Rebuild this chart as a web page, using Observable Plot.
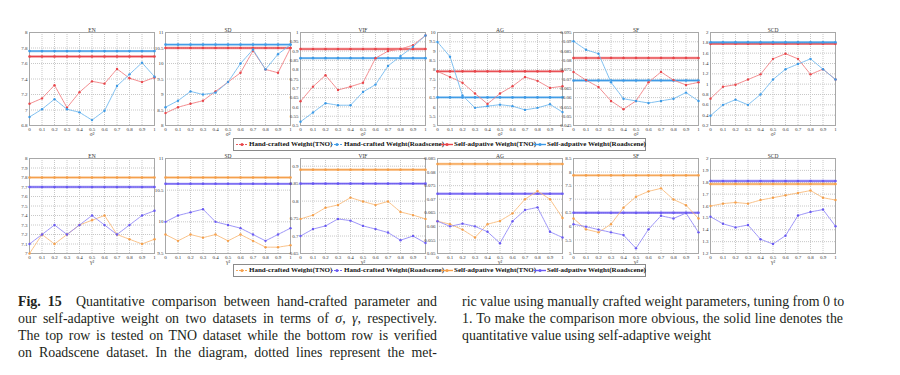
<!DOCTYPE html>
<html><head><meta charset="utf-8">
<script src="https://cdn.jsdelivr.net/npm/d3@7"></script>
<script src="https://cdn.jsdelivr.net/npm/@observablehq/plot@0.6"></script>
<style>
body{margin:0;background:#fff;}
#root{position:relative;width:900px;height:375px;overflow:hidden;font-family:"Liberation Serif",serif;}
.panel{position:absolute;}
.legend{position:absolute;left:233px;width:411px;height:11px;border:1px solid #8a8a8a;font-weight:bold;font-size:7px;line-height:11px;color:#111;}
.legend .it{position:absolute;top:0;display:flex;align-items:center;height:11px;white-space:nowrap;}
.legend svg{margin-right:1px;}
.cap{position:absolute;top:293px;font-size:13.9px;line-height:17px;color:#231f20;}
.cap div{text-align:justify;text-align-last:justify;white-space:nowrap;}
.cap div.last{text-align-last:left;}
</style></head>
<body><div id="root"></div>
<script>
// ---------- data ----------
const sigma = [0, 0.1, 0.2, 0.3, 0.4, 0.5, 0.6, 0.7, 0.8, 0.9, 1];
const metrics = ["EN", "SD", "VIF", "AG", "SF", "SCD"];

// top row (TNO / Roadscene, parameter sigma^2)
const topHandTNO = [
  [7.08, 7.15, 7.32, 7.03, 7.23, 7.37, 7.34, 7.53, 7.41, 7.36, 7.42],
  [8.40, 8.59, 8.70, 8.80, 9.10, 9.40, 9.70, 10.41, 9.81, 9.70, 10.50],
  [0.630, 0.709, 0.770, 0.691, 0.709, 0.730, 0.862, 0.900, 0.911, 0.932, 0.984],
  [7.91, 7.61, 7.30, 6.72, 6.16, 6.72, 7.11, 7.61, 7.40, 7.02, 7.11],
  [0.0738, 0.0694, 0.0657, 0.0582, 0.0538, 0.0582, 0.0682, 0.0738, 0.0694, 0.0668, 0.0682],
  [0.72, 0.95, 0.99, 1.09, 1.19, 1.49, 1.59, 1.49, 1.19, 1.29, 1.09]
];
const topHandRoad = [
  [6.91, 7.01, 7.14, 7.01, 6.97, 6.87, 6.99, 7.31, 7.46, 7.61, 7.43],
  [8.59, 8.80, 9.10, 9.00, 9.06, 9.40, 10.00, 10.45, 9.81, 10.30, 10.61],
  [0.520, 0.570, 0.620, 0.609, 0.609, 0.680, 0.720, 0.820, 0.873, 0.923, 0.984],
  [9.49, 8.70, 6.61, 5.95, 6.04, 6.12, 6.04, 5.84, 5.95, 6.14, 5.72],
  [0.0903, 0.0857, 0.0836, 0.0682, 0.0594, 0.0582, 0.0571, 0.0582, 0.0594, 0.0627, 0.0582],
  [0.39, 0.60, 0.70, 0.60, 0.80, 1.09, 1.29, 1.39, 1.49, 1.29, 1.09]
];
const topSelfTNO = [7.69, 10.5, 0.911, 7.91, 0.0813, 1.78];
const topSelfRoad = [7.76, 10.61, 0.862, 6.51, 0.0692, 1.81];
const topDomains = [[6.8, 8], [8, 11], [0.5, 1], [5, 10], [0.045, 0.095], [0.2, 2]];
const topTicks = [
  [6.8, 7, 7.2, 7.4, 7.6, 7.8, 8],
  [8, 8.5, 9, 9.5, 10, 10.5, 11],
  [0.5, 0.55, 0.6, 0.65, 0.7, 0.75, 0.8, 0.85, 0.9, 0.95, 1],
  [5, 5.5, 6, 6.5, 7, 7.5, 8, 8.5, 9, 9.5, 10],
  [0.045, 0.05, 0.055, 0.06, 0.065, 0.07, 0.075, 0.08, 0.085, 0.09, 0.095],
  [0.2, 0.4, 0.6, 0.8, 1, 1.2, 1.4, 1.6, 1.8, 2]
];

// bottom row (TNO / Roadscene, parameter gamma^2)
const botHandTNO = [
  [7.0, 7.2, 7.1, 7.2, 7.3, 7.35, 7.4, 7.2, 7.15, 7.1, 7.15],
  [9.80, 9.70, 9.80, 9.75, 9.80, 9.70, 9.80, 9.70, 9.60, 9.60, 9.63],
  [0.749, 0.760, 0.781, 0.789, 0.810, 0.799, 0.789, 0.799, 0.769, 0.760, 0.749],
  [0.0619, 0.0608, 0.0588, 0.0559, 0.0608, 0.0620, 0.0648, 0.0700, 0.0730, 0.0700, 0.0631],
  [6.29, 5.89, 5.78, 6.08, 6.69, 7.09, 7.29, 7.40, 6.99, 6.78, 6.29],
  [1.60, 1.62, 1.63, 1.62, 1.65, 1.67, 1.69, 1.71, 1.73, 1.67, 1.65]
];
const botHandRoad = [
  [7.1, 7.2, 7.3, 7.2, 7.3, 7.4, 7.3, 7.2, 7.3, 7.4, 7.45],
  [10.0, 10.1, 10.15, 10.2, 10.0, 9.95, 9.90, 9.80, 9.70, 9.80, 9.90],
  [0.700, 0.720, 0.729, 0.749, 0.744, 0.729, 0.720, 0.710, 0.688, 0.700, 0.680],
  [0.0619, 0.0600, 0.0610, 0.0600, 0.0580, 0.0538, 0.0619, 0.0660, 0.0670, 0.0580, 0.0559],
  [6.08, 5.99, 5.88, 5.78, 5.68, 5.19, 5.89, 6.39, 6.29, 6.49, 5.78],
  [1.51, 1.45, 1.42, 1.44, 1.32, 1.28, 1.35, 1.52, 1.55, 1.57, 1.43]
];
const botSelfTNO = [7.8, 10.7, 0.89, 0.083, 7.88, 1.785];
const botSelfRoad = [7.7, 10.6, 0.85, 0.072, 6.5, 1.81];
const botDomains = [[7, 8], [9.5, 11], [0.65, 0.922], [0.05, 0.085], [5, 8.5], [1.2, 2]];
const botTicks = [
  [7, 7.1, 7.2, 7.3, 7.4, 7.5, 7.6, 7.7, 7.8, 7.9, 8],
  [9.5, 10, 10.5, 11],
  [0.65, 0.7, 0.75, 0.8, 0.85, 0.9],
  [0.05, 0.055, 0.06, 0.065, 0.07, 0.075, 0.08, 0.085],
  [5, 5.5, 6, 6.5, 7, 7.5, 8, 8.5],
  [1.2, 1.3, 1.4, 1.5, 1.6, 1.7, 1.8, 1.9, 2]
];

const legendLabels = ["Hand-crafted Weight(TNO)", "Hand-crafted Weight(Roadscene)", "Self-adpative Weight(TNO)", "Self-adpative Weight(Roadscene)"];

// ---------- layout ----------
const root = document.getElementById("root");
const frameLefts = [29, 165, 300, 437, 573, 710];
const frameW = 125;
const ML = 22, MR = 3, MT = 10, MB = 16;
const fmt = d => String(+d.toFixed(4));

function panel(i, row) {
  const top = row === 0;
  const frameTop = top ? 32 : 158;
  const frameH = top ? 93 : 95;
  const hand1 = top ? topHandTNO[i] : botHandTNO[i];
  const hand2 = top ? topHandRoad[i] : botHandRoad[i];
  const self1 = top ? topSelfTNO[i] : botSelfTNO[i];
  const self2 = top ? topSelfRoad[i] : botSelfRoad[i];
  const dom = top ? topDomains[i] : botDomains[i];
  const ticks = top ? topTicks[i] : botTicks[i];
  const c1 = top ? "#e8454a" : "#f5a04c";     // TNO self
  const c1l = top ? "#f07f82" : "#f8bb7c";    // TNO hand
  const c2 = top ? "#3d9ae6" : "#6a5af2";     // Road self
  const c2l = top ? "#72b9ee" : "#9289f6";    // Road hand
  const xlab = top ? "σ²" : "γ²";
  const p = Plot.plot({
    width: frameW + ML + MR,
    height: frameH + MT + MB,
    marginLeft: ML, marginRight: MR, marginTop: MT, marginBottom: MB,
    x: {domain: [0, 1]},
    y: {domain: dom},
    style: {fontFamily: "Liberation Serif", fontSize: "5px", color: "#333", background: "transparent", overflow: "visible"},
    marks: [
      Plot.gridX(sigma, {stroke: "#c8c8c8", strokeOpacity: 1, strokeDasharray: "1,1"}),
      Plot.gridY(ticks, {stroke: "#c8c8c8", strokeOpacity: 1, strokeDasharray: "1,1"}),
      Plot.frame({stroke: "#a8a8a8"}),
      Plot.axisX(sigma, {tickSize: 0, tickPadding: 2, tickFormat: fmt, label: null, fontSize: 5}),
      Plot.axisY(ticks, {tickSize: 0, tickPadding: 2, tickFormat: fmt, label: null, fontSize: 5}),
      Plot.text([xlab], {frameAnchor: "bottom", dy: 10, fontSize: 5.5, fill: "#333"}),
      Plot.text([metrics[i]], {frameAnchor: "top", dy: -4, fontSize: 5.5, fill: "#333"}),
      // self-adaptive (solid, thick)
      Plot.ruleY([self1], {stroke: c1, strokeWidth: 2.4, strokeOpacity: 0.55}),
      Plot.ruleY([self1], {stroke: c1, strokeWidth: 1}),
      Plot.dot(sigma, {x: d => d, y: () => self1, r: 1.3, fill: c1}),
      Plot.ruleY([self2], {stroke: c2, strokeWidth: 2.4, strokeOpacity: 0.55}),
      Plot.ruleY([self2], {stroke: c2, strokeWidth: 1}),
      Plot.dot(sigma, {x: d => d, y: () => self2, r: 1.3, fill: c2}),
      // hand-crafted (dotted, thin)
      Plot.lineY(hand1, {x: sigma, y: d => d, stroke: c1l, strokeWidth: 0.9, strokeDasharray: "2.5,0.8"}),
      Plot.dot(hand1, {x: sigma, y: d => d, r: 1.2, fill: c1}),
      Plot.lineY(hand2, {x: sigma, y: d => d, stroke: c2l, strokeWidth: 0.9, strokeDasharray: "2.5,0.8"}),
      Plot.dot(hand2, {x: sigma, y: d => d, r: 1.2, fill: c2})
    ]
  });
  p.classList.add("panel");
  p.style.left = (frameLefts[i] - ML) + "px";
  p.style.top = (frameTop - MT) + "px";
  root.appendChild(p);
}
for (let i = 0; i < 6; i++) { panel(i, 0); panel(i, 1); }

function legend(topPx, cTNO, cRoad) {
  const box = document.createElement("div");
  box.className = "legend";
  box.style.top = topPx + "px";
  const lefts = [2, 97, 207, 300];
  const cols = [cTNO, cRoad, cTNO, cRoad];
  legendLabels.forEach((lab, k) => {
    const it = document.createElement("div");
    it.className = "it";
    it.style.left = lefts[k] + "px";
    const dashed = k < 2;
    it.innerHTML = `<svg width="12" height="7"><line x1="0" x2="12" y1="3.5" y2="3.5" stroke="${cols[k]}" stroke-width="${dashed ? 0.9 : 1.4}" ${dashed ? 'stroke-dasharray="2,1"' : ''}/><circle cx="6" cy="3.5" r="1.5" fill="${cols[k]}"/></svg><span>${lab}</span>`;
    box.appendChild(it);
  });
  root.appendChild(box);
}
legend(138, "#e8454a", "#3d9ae6");
legend(264, "#f5a04c", "#6a5af2");

// caption
const capL = document.createElement("div");
capL.className = "cap";
capL.style.left = "18px"; capL.style.width = "419px";
capL.innerHTML = `<div><b>Fig. 15</b>&nbsp; Quantitative comparison between hand-crafted parameter and</div>
<div>our self-adaptive weight on two datasets in terms of <i>σ</i>, <i>γ</i>, respectively.</div>
<div>The top row is tested on TNO dataset while the bottom row is verified</div>
<div>on Roadscene dataset. In the diagram, dotted lines represent the met-</div>`;
root.appendChild(capL);
const capR = document.createElement("div");
capR.className = "cap";
capR.style.left = "462px"; capR.style.width = "381px";
capR.innerHTML = `<div>ric value using manually crafted weight parameters, tuning from 0 to</div>
<div>1. To make the comparison more obvious, the solid line denotes the</div>
<div class="last">quantitative value using self-adaptive weight</div>`;
root.appendChild(capR);
</script>
</body></html>
